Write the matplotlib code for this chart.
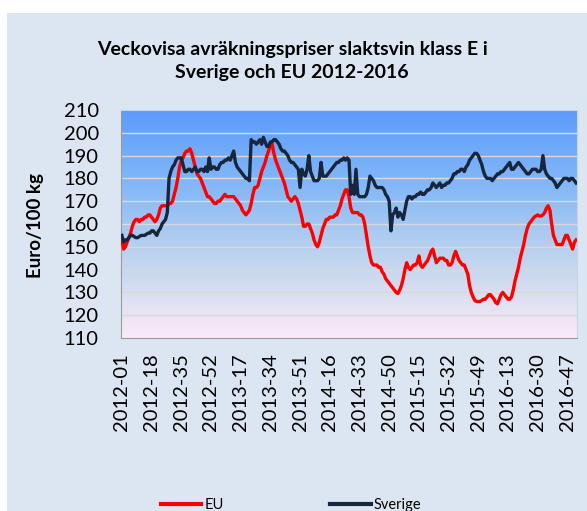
import numpy as np
import matplotlib
matplotlib.use("Agg")
import matplotlib.pyplot as plt
from matplotlib.colors import LinearSegmentedColormap
from matplotlib.patches import Rectangle
from matplotlib.lines import Line2D

# ---- data (weekly, 2012-01 .. 2016-52) ----
years = [2012, 2013, 2014, 2015, 2016]
weeks_per_year = [52, 52, 52, 53, 52]

eu_2012 = [153, 149, 150, 152, 154, 156, 159, 161, 162, 162, 161, 162, 162, 163, 163, 164, 164, 163, 162, 161,
           162, 164, 167, 168, 168, 168, 168, 169, 169, 170, 173, 176, 180, 185, 188, 189, 191, 192, 192, 193,
           191, 188, 185, 182, 181, 180, 178, 176, 174, 172, 172, 171]
eu_2013 = [170, 169, 169, 170, 170, 171, 172, 173, 172, 172, 172, 172, 172, 171, 170, 169, 168, 166, 165, 164,
           165, 166, 169, 173, 176, 176, 177, 180, 183, 185, 187, 190, 192, 195, 195, 191, 188, 186, 184, 182,
           180, 178, 175, 172, 171, 170, 171, 172, 171, 169, 166, 163]
eu_2014 = [159, 159, 160, 160, 158, 156, 153, 151, 150, 152, 155, 158, 160, 162, 162, 163, 163, 163, 164, 164,
           166, 168, 171, 173, 175, 175, 172, 167, 165, 165, 165, 165, 164, 164, 163, 160, 155, 150, 146, 143,
           142, 142, 142, 141, 141, 139, 138, 136, 135, 134, 133, 132]
eu_2015 = [131, 130, 129.5, 131, 133, 136, 140, 143, 141, 140, 141, 142, 142, 143, 146, 142, 141, 142, 143, 144,
           146, 148, 149, 146, 143, 144, 145, 145, 145, 144, 144, 142, 142, 143, 146, 148, 146, 144, 143, 142,
           142, 140, 138, 133, 130, 128, 126.5, 126, 126, 126, 126.5, 127, 127]
eu_2016 = [128, 129, 129, 128, 127, 125.5, 125, 127, 129, 130, 129, 128, 127, 127, 128, 131, 135, 138, 141, 145,
           148, 151, 155, 158, 160, 161, 162, 163, 163.5, 164, 163.5, 163.5, 164, 165, 167, 168, 166, 160, 155, 153,
           151, 151, 151, 151, 153, 155, 155, 153, 151, 149, 152, 153]

se_2012 = [155, 152, 153, 153, 154, 155, 155, 154.5, 154, 154, 154.5, 155, 155, 155, 155.5, 156, 156, 157, 157, 156,
           155, 157, 158, 160, 161, 162, 165, 180, 183, 185, 186, 188, 189, 189, 189, 186, 183, 183, 184, 184,
           183, 184, 185, 183, 183, 184, 184, 183, 185, 183, 189, 184]
se_2013 = [185, 185, 184, 184, 186, 187, 187, 188, 188, 189, 188, 190, 192, 187, 185, 184, 183, 182, 181, 180,
           180, 179, 197, 196, 196, 195, 196, 197, 195, 198, 196, 194, 194, 196, 196, 197, 197, 196, 195, 193,
           192, 192, 191, 190, 188, 187, 187, 186, 185, 184, 176, 184]
se_2014 = [182, 181, 184, 190, 183, 181, 179, 179, 179, 180, 187, 181, 181, 181, 182, 183, 184, 185, 186, 187,
           187, 188, 188, 189, 188, 189, 188, 173, 177, 173, 184, 173, 172, 172, 172, 172, 173, 176, 181, 180,
           179, 177, 176, 176, 176, 176, 175, 173, 172, 170, 157, 164]
se_2015 = [165, 167, 163, 165, 164, 162, 166, 170, 172, 172, 171, 172, 172, 173, 173, 174, 173, 173, 174, 175,
           175, 176, 178, 177, 176, 177, 178, 176, 177, 177, 178, 178, 179, 180, 182, 182, 183, 183, 184, 184,
           183, 185, 186, 188, 189, 190, 191, 191, 190, 188, 186, 183, 181]
se_2016 = [180, 180, 180, 179, 180, 181, 182, 182, 183, 183, 184, 185, 186, 187, 184, 184, 185, 186, 187, 186,
           185, 184, 183, 182, 182, 183, 184, 184, 184, 183, 183, 184, 190, 184, 182, 181, 180, 180, 179, 178,
           176, 177, 178, 179, 180, 180, 180, 179, 180, 180, 179, 178]

eu = eu_2012 + eu_2013 + eu_2014 + eu_2015 + eu_2016
sverige = se_2012 + se_2013 + se_2014 + se_2015 + se_2016

week_labels = []
for y, n in zip(years, weeks_per_year):
    week_labels += [f"{y}-{w:02d}" for w in range(1, n + 1)]

y_min, y_max, y_step = 110, 210, 10
label_every = 17
title = "Veckovisa avräkningspriser slaktsvin klass E i\nSverige och EU 2012-2016"
ylabel = "Euro/100 kg"

# ---- figure ----
plt.rcParams['font.family'] = ['Lato', 'DejaVu Sans']
W, H = 587, 511
fig = plt.figure(figsize=(W / 100, H / 100), dpi=100)
fig.patch.set_facecolor("white")
fig.patches.append(Rectangle((7 / W, 0), 1, 1 - 13 / H, transform=fig.transFigure,
                             facecolor="#dce6f2", edgecolor="none", zorder=-10))

ax = fig.add_axes([121 / W, 1 - 338 / H, (577 - 121) / W, (338 - 110) / H])
n = len(eu)
x = np.arange(n)
ax.set_xlim(-0.5, n - 0.5)
ax.set_ylim(y_min, y_max)

cmap = LinearSegmentedColormap.from_list(
    "bg", [(0.0, "#5b9bfb"), (0.35, "#86b9f7"), (0.6, "#b6d0ef"), (0.8, "#d9def0"), (1.0, "#fbeaf7")])
grad = np.linspace(0, 1, 256).reshape(-1, 1)
ax.imshow(grad, cmap=cmap, aspect="auto", extent=[-0.5, n - 0.5, y_min, y_max],
          origin="upper", zorder=0)

for v in range(y_min + y_step, y_max, y_step):
    ax.axhline(v, color="#d9d9d9", lw=1.0, zorder=1)

ax.plot(x, eu, color="#ff0000", lw=2.4, zorder=3, solid_joinstyle="round")
ax.plot(x, sverige, color="#17263d", lw=2.4, zorder=4, solid_joinstyle="round")

ax.set_yticks(range(y_min, y_max + 1, y_step))
ax.tick_params(axis="y", length=0, pad=16, labelsize=14.5, labelcolor="#000000")
ticks = list(range(0, n, label_every))
ax.set_xticks(ticks)
ax.set_xticklabels([week_labels[i] for i in ticks], rotation=90)
ax.tick_params(axis="x", length=0, pad=11, labelsize=14.5)

for s in ["top", "right"]:
    ax.spines[s].set_color("#c8d4e6")
for s in ["left", "bottom"]:
    ax.spines[s].set_color("#9a9a9a")

fig.text(292 / W, 1 - 61 / H, title, ha="center", va="center", fontsize=14,
         fontweight="bold", linespacing=1.45)
fig.text(35 / W, 1 - 226 / H, ylabel, rotation=90, ha="center", va="center",
         fontsize=13.5, fontweight="bold")

handles = [Line2D([], [], color="#ff0000", lw=3), Line2D([], [], color="#17263d", lw=3)]
fig.legend(handles, ["EU", "Sverige"], loc="center", bbox_to_anchor=(291 / W, 1 - 505 / H),
           ncol=2, frameon=False, fontsize=10.5, handlelength=2.8, handletextpad=0.2,
           columnspacing=7.3)

fig.savefig("out.png", dpi=100)
